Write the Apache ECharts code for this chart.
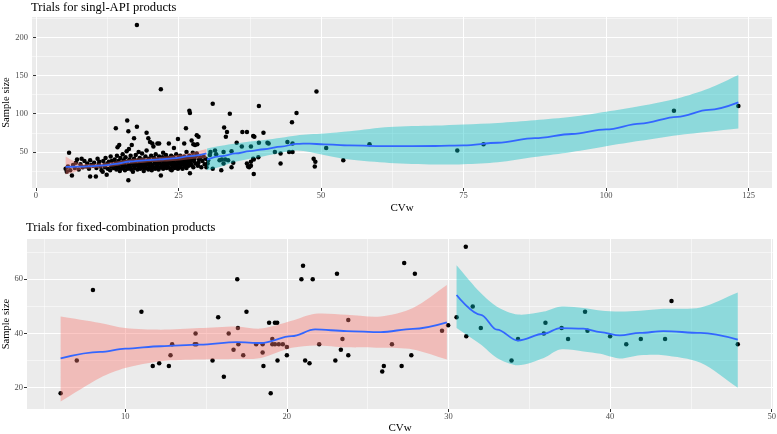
<!DOCTYPE html>
<html>
<head>
<meta charset="utf-8">
<script src="https://cdn.jsdelivr.net/npm/echarts@6/dist/echarts.min.js"></script>
<style>
  html, body { margin: 0; padding: 0; background: #fff; }
  #chart { width: 777px; height: 434px; }
</style>
</head>
<body>
<div id="chart"></div>
<script>
// top panel: trials for single-API products, [CVw, sample size]
const singlePoints = [
  [5.2,28],[5.4,24],[5.6,31],[5.8,49],[6.0,26],[6.3,19],[6.5,33],[6.8,29],[7.0,36],[7.2,40],[7.5,27],[7.8,34],[8.0,41],[8.2,30],
  [8.5,38],[8.8,31],[9.0,35],[9.3,28],[9.5,18],[9.5,39],[9.7,33],[10.0,32],[10.2,36],[10.5,18],[10.6,29],[10.8,41],[11.0,34],[11.1,37],
  [11.3,31],[11.5,26],[11.7,24],[11.8,38],[12.0,33],[12.1,30],[12.2,42],[12.4,20],[12.5,35],[12.6,28],[12.8,37],[13.0,26],[13.1,44],[13.2,31],[13.3,38],[13.5,33],[13.6,29],[13.8,40],
  [13.9,32],[14.0,81],[14.0,36],[14.1,27],[14.2,45],[14.3,56],[14.4,30],[14.5,38],[14.6,59],[14.6,34],[14.7,25],[14.8,42],[14.9,28],[15.0,36],[15.1,32],[15.2,47],[15.3,29],[15.4,39],[15.5,34],[15.6,26],[15.7,43],[15.8,31],[15.9,51],[16.0,91],[16.0,37],[16.1,28],
  [16.2,13],[16.2,77],[16.3,54],[16.3,33],[16.4,40],[16.5,30],[16.6,45],[16.7,27],[16.8,59],[16.8,35],[16.9,38],[17.0,24],[17.1,32],[17.2,68],[17.2,41],[17.3,29],[17.4,36],[17.5,46],[17.6,33],[17.7,216],[17.7,83],[17.8,27],[17.9,39],[18.0,50],[18.0,31],
  [18.1,35],[18.2,42],[18.3,28],[18.4,37],[18.5,33],[18.6,48],[18.7,30],[18.8,40],[18.9,25],[19.0,36],[19.1,32],[19.2,44],[19.3,29],[19.4,75],[19.4,52],[19.5,38],[19.6,34],[19.7,68],[19.7,27],[19.8,41],[19.9,31],[20.0,63],[20.0,36],
  [20.1,29],[20.2,45],[20.3,26],[20.4,61],[20.4,33],[20.5,39],[20.6,57],[20.6,30],[20.7,42],[20.8,35],[20.9,28],[21.0,47],[21.1,37],[21.2,31],[21.3,61],[21.3,40],[21.4,34],[21.5,27],[21.6,61],[21.6,44],[21.7,36],[21.8,30],[21.9,132],[21.9,19],[22.0,39],
  [22.1,33],[22.2,43],[22.3,49],[22.3,28],[22.4,37],[22.5,31],[22.6,41],[22.7,35],[22.8,46],[22.9,29],[23.0,38],[23.1,33],[23.2,42],[23.3,61],[23.3,30],[23.4,36],[23.5,40],[23.6,27],[23.7,45],[23.8,26],[23.8,34],[23.9,38],
  [24.0,31],[24.1,43],[24.2,55],[24.2,36],[24.3,29],[24.4,40],[24.5,34],[24.6,47],[24.7,32],[24.8,38],[24.9,67],[24.9,28],[25.0,42],[25.1,35],[25.2,30],[25.3,45],[25.4,37],[25.5,33],[25.6,41],[25.7,28],[25.8,39],[25.9,35],
  [26.0,61],[26.0,44],[26.1,31],[26.2,37],[26.3,81],[26.3,40],[26.4,50],[26.4,29],[26.5,34],[26.6,42],[26.7,38],[26.8,32],[26.9,104],[26.9,45],[27.0,101],[27.0,22],[27.1,36],[27.2,40],[27.3,65],[27.3,33],[27.4,43],[27.5,49],[27.6,60],[27.6,30],[27.7,38],
  [27.8,41],[27.9,59],[28.0,35],[28.1,45],[28.2,72],[28.2,48],[28.3,60],[28.4,32],[28.5,70],[28.5,36],[28.6,40],[28.8,43],[29.0,30],[29.2,38],[29.4,44],[29.6,34],[29.8,41],[29.9,30],
  [30.1,35],[30.2,39],[30.5,46],[30.6,50],[31.0,28],[31.0,113],[31.4,52],[31.6,47],[32.2,39],[32.5,26],[32.6,40],[32.9,35],[32.9,50],[33.0,82],[33.2,40],[33.3,70],[33.5,76],[33.7,39],
  [34.0,100],[34.3,30],[34.3,51],[34.6,36],[35.2,62],[36.1,57],[36.2,76],[37.0,76],[37.0,35],[37.2,31],[37.4,30],[37.7,57],[37.7,37],[37.7,32],[38.1,71],[38.1,41],[38.2,21],[38.2,40],[38.3,70],
  [39.0,43],[39.1,62],[39.1,110],[39.9,75],[40.6,62],[40.8,61],[41.9,50],[42.9,48],[42.9,35],[44.1,63],[44.4,50],[44.9,89],[45.0,61],[45.0,50],[45.7,101],
  [48.7,41],[48.9,31],[49.0,37],[49.2,129],[50.9,55],[53.9,39],[58.5,60],[73.9,52],[78.5,60],[111.9,104],[123.2,110]
];

// loess fit, CVw <= 30 group
const singleLowX = [5.2, 6.5, 8, 10, 12, 14, 16.5, 19, 21.8, 24, 27, 29.9];
const singleLowFit = [30.5, 30.6, 30.8, 31.5, 32.5, 34.5, 37.5, 39, 40.2, 41.5, 44.5, 48];
const singleLowUpper = [44, 38.5, 34.5, 34.5, 35.5, 37.5, 40.5, 42, 43.5, 45, 48.5, 54];
const singleLowLower = [20.5, 23, 27, 28.5, 29.5, 31.5, 34.5, 36, 37, 38, 40.5, 42];

// loess fit, CVw > 30 group
const singleHighX = [30, 32.5, 35, 37.5, 40, 43, 45.7, 48, 50.5, 55, 62, 70, 75, 81, 87.5, 94, 100, 106, 112.5, 118, 123.2];
const singleHighFit = [40, 44.5, 48, 51, 53.5, 57, 60.5, 61, 59.8, 58.5, 57.5, 57.8, 58.5, 62, 68, 73.5, 79.5, 87, 96, 105, 114.8];
const singleHighUpper = [54.5, 58, 61, 63.5, 65.5, 68.5, 71.5, 73, 74, 77, 82.5, 84.5, 86, 88, 91.5, 96, 102.5, 110, 120, 133, 150.7];
const singleHighLower = [26, 31, 37, 41, 44.5, 49, 52, 50, 46, 40, 35.6, 33.5, 33.9, 36.5, 43.4, 50, 57.5, 64.5, 71.9, 76.5, 80.7];

// bottom panel: trials for fixed-combination products
const comboPoints = [
  [6,18],[7,30],[8,56],[11,48],[11.7,28],[12.1,29],[12.7,28],[12.8,32],[12.9,36],[14.35,40],[14.3,36],[14.4,36],
  [15.4,30],[15.75,46],[16.1,24],[16.4,40],[16.7,34],[16.93,60],[16.97,42],[17,36],[17.3,32],[17.5,48],
  [18.1,36],[18.5,36],[18.5,33],[18.55,28],[18.9,44],[19,18],[19.1,38],[19.1,36],[19.26,36],[19.26,44],[19.4,44],
  [19.42,30],[19.5,36],[19.75,36],[20,32],[20,35],[20.9,60],[21,65],[21.13,30],[21.4,29],[21.6,60],[22,36],
  [23,30],[23.1,62],[23.34,34],[23.44,38],[23.8,32],[23.8,45],[25.9,26],[26,28],[26.5,36],[27.1,28],[27.26,66],
  [27.7,32],[27.92,62],[29.6,41],[29.98,43],
  [30.5,46],[31.07,72],[31.1,39],[31.5,50],[32,42],[33.9,30],[34.3,38],[35.9,40],[36,44],[37,42],[37.4,38],
  [38.45,48],[38.6,41],[40,39],[41,36],[41.9,38],[43.4,38],[43.8,52],[47.9,36]
];

const comboLowX = [6, 8.45, 10, 12.2, 14.6, 16.9, 18.4, 20.3, 21.75, 23.7, 25.8, 27.8, 29.9];
const comboLowFit = [30.8, 33.2, 34.4, 35.3, 35.9, 36.8, 36.5, 39, 41.5, 40.9, 40.5, 41.7, 44.1];
const comboLowUpper = [46.3, 43.9, 42, 41.4, 42, 42.6, 41.8, 44.7, 47.3, 46.9, 46.3, 49.4, 57.9];
const comboLowLower = [14.9, 23.7, 27.3, 29.8, 30.4, 30.6, 31, 34.7, 35.6, 34.9, 34.7, 34.1, 30.4];

const comboHighX = [30.5, 32, 33, 34.3, 35.9, 36.9, 38.35, 39.4, 40.6, 41.85, 43.3, 45.6, 47.9];
const comboHighFit = [54.2, 46.9, 41.4, 37.4, 39.9, 42, 41.8, 40.5, 39.3, 40.2, 40.9, 40.2, 37.7];
const comboHighUpper = [65.2, 54.9, 49.9, 47, 48.1, 49.9, 49.4, 48.5, 48.1, 48.4, 49.1, 49.6, 55.1];
const comboHighLower = [42, 35.9, 31, 28.3, 31, 34.1, 33.4, 32.5, 30.8, 32, 32, 29.2, 20];

// axis ticks
const singleXTicks = [0, 25, 50, 75, 100, 125];
const singleXMinor = [12.5, 37.5, 62.5, 87.5, 112.5];
const singleYTicks = [50, 100, 150, 200];
const singleYMinor = [25, 75, 125, 175, 225];
const comboXTicks = [10, 20, 30, 40, 50];
const comboXMinor = [5, 15, 25, 35, 45];
const comboYTicks = [20, 40, 60];
const comboYMinor = [30, 50, 70];

const FONT = 'Liberation Serif';
const lowFill = '#F8766D';
const highFill = '#00BFC4';
const fitColor = '#3366FF';

function majorAxis(grid, min, max, ticks, isX, name, nameGap) {
  return {
    type: 'value', gridIndex: grid, min: min, max: max,
    axisLine: { show: false },
    axisTick: { show: true, length: 3, customValues: ticks, lineStyle: { color: '#333', width: 1 } },
    axisLabel: { customValues: ticks, fontFamily: FONT, fontSize: 8.5, color: '#4D4D4D', margin: isX ? 3 : 4 },
    splitLine: { show: true, lineStyle: { color: '#fff', width: 1 } },
    name: name, nameLocation: 'middle', nameGap: nameGap, nameMoveOverlap: false,
    nameTextStyle: { fontFamily: FONT, fontSize: isX ? 11 : 10.5, color: '#000' }
  };
}

function minorAxis(grid, min, max, ticks) {
  return {
    type: 'value', gridIndex: grid, min: min, max: max,
    axisLine: { show: false },
    axisTick: { show: false, customValues: ticks },
    axisLabel: { show: false, customValues: ticks },
    splitLine: { show: true, lineStyle: { color: '#fff', width: 0.5 } }
  };
}

// confidence band as one polygon: upper edge forward, lower edge back
function ribbon(xs, lo, hi, color, xi, yi) {
  return {
    type: 'custom', xAxisIndex: xi, yAxisIndex: yi, silent: true, z: 3, clip: true,
    data: [[xs[0], lo[0]]],
    renderItem: function (params, api) {
      const up = xs.map((x, i) => api.coord([x, hi[i]]));
      const dn = xs.map((x, i) => api.coord([x, lo[i]])).reverse();
      const pts = [up[0]].concat(up, [up[up.length - 1], dn[0]], dn, [dn[dn.length - 1]]);
      return {
        type: 'polygon',
        shape: { points: pts, smooth: 0.3 },
        style: { fill: color, opacity: 0.4 }
      };
    }
  };
}

function fitLine(xs, ys, xi, yi) {
  return {
    type: 'line', xAxisIndex: xi, yAxisIndex: yi,
    data: xs.map((x, i) => [x, ys[i]]),
    smooth: 0.35, smoothMonotone: 'x', symbol: 'none', silent: true,
    lineStyle: { color: fitColor, width: 1.8 }, z: 4
  };
}

const chart = echarts.init(document.getElementById('chart'), null, { renderer: 'canvas' });

const option = {
  animation: false,
  backgroundColor: '#fff',
  title: [
    { text: 'Trials for singl-API products', left: 31, top: 1, padding: 0,
      textStyle: { fontFamily: FONT, fontSize: 12.6, fontWeight: 'normal', color: '#000' } },
    { text: 'Trials for fixed-combination products', left: 26, top: 221, padding: 0,
      textStyle: { fontFamily: FONT, fontSize: 12.6, fontWeight: 'normal', color: '#000' } }
  ],
  grid: [
    { left: 32, top: 17, width: 740, height: 171, show: true, backgroundColor: '#EBEBEB', borderWidth: 0,
      containLabel: false, outerBoundsMode: 'none' },
    { left: 27, top: 239, width: 746, height: 170, show: true, backgroundColor: '#EBEBEB', borderWidth: 0,
      containLabel: false, outerBoundsMode: 'none' }
  ],
  xAxis: [
    majorAxis(0, -0.7, 129.1, singleXTicks, true, 'CVw', 15),
    minorAxis(0, -0.7, 129.1, singleXMinor),
    majorAxis(1, 3.92, 50.08, comboXTicks, true, 'CVw', 13.5),
    minorAxis(1, 3.92, 50.08, comboXMinor)
  ],
  yAxis: [
    majorAxis(0, 2.8, 226.6, singleYTicks, false, 'Sample size', 20),
    minorAxis(0, 2.8, 226.6, singleYMinor),
    majorAxis(1, 12.15, 74.85, comboYTicks, false, 'Sample size', 15),
    minorAxis(1, 12.15, 74.85, comboYMinor)
  ],
  series: [
    { type: 'scatter', xAxisIndex: 0, yAxisIndex: 0, data: singlePoints, symbolSize: 4.5,
      itemStyle: { color: '#000', opacity: 1 }, silent: true, z: 2 },
    { type: 'scatter', xAxisIndex: 2, yAxisIndex: 2, data: comboPoints, symbolSize: 4.5,
      itemStyle: { color: '#000', opacity: 1 }, silent: true, z: 2 },
    ribbon(singleLowX, singleLowLower, singleLowUpper, lowFill, 0, 0),
    ribbon(singleHighX, singleHighLower, singleHighUpper, highFill, 0, 0),
    ribbon(comboLowX, comboLowLower, comboLowUpper, lowFill, 2, 2),
    ribbon(comboHighX, comboHighLower, comboHighUpper, highFill, 2, 2),
    fitLine(singleLowX, singleLowFit, 0, 0),
    fitLine(singleHighX, singleHighFit, 0, 0),
    fitLine(comboLowX, comboLowFit, 2, 2),
    fitLine(comboHighX, comboHighFit, 2, 2)
  ]
};

chart.setOption(option);
</script>
</body>
</html>
